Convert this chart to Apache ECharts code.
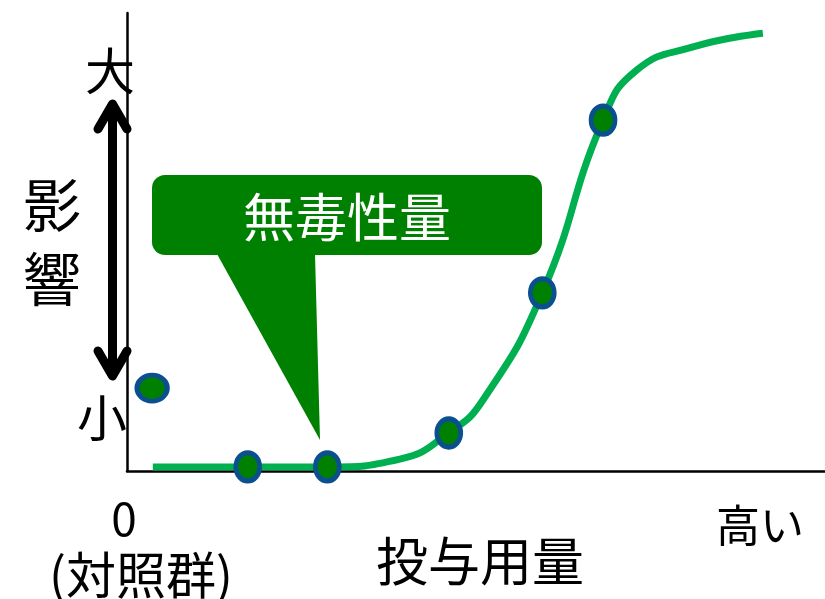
<!DOCTYPE html>
<html>
<head>
<meta charset="utf-8">
<script src="https://cdn.jsdelivr.net/npm/echarts@6/dist/echarts.min.js"></script>
<style>
  html, body { margin: 0; padding: 0; background: #fff; }
  #chart { width: 825px; height: 599px; }
</style>
</head>
<body>
<div id="chart"></div>
<script>
// dose (0-100 = low..high) / effect (0-100 = small..large)
const curveDose   = [3.7, 28.7, 39.1, 46.1, 51.0, 59.5, 68.2, 73.0, 81.1, 91.1];
const curveEffect = [0.9, 0.9, 2.6, 8.3, 15.5, 38.9, 76.6, 87.5, 92.6, 95.6];

const controlDose = [3.6];
const controlEffect = [18.1];
const groupDose   = [17.3, 28.7, 46.1, 59.5, 68.2];
const groupEffect = [0.9, 0.9, 8.3, 38.9, 76.6];

const yEndLabels = ["大", "小"];
const yTitleChars = ["影", "響"];
const xLowLabel = ["0", "(対照群)"];
const xHighLabel = "高い";
const xTitle = "投与用量";
const noaelText = "無毒性量";

const FONT = '"Noto Sans CJK JP", "Noto Sans", sans-serif';
const GREEN = "#008000";
const BLUE = "#0a4f8e";

function zip(a, b) {
  return a.map((v, i) => [v, b[i]]);
}

function txt(text, x, y, size, color) {
  return {
    type: "text",
    x: x,
    y: y,
    z: 10,
    style: {
      text: text,
      fill: color || "#000",
      font: size + "px " + FONT,
      align: "center",
      verticalAlign: "middle",
    },
  };
}

const myChart = echarts.init(document.getElementById("chart"));

myChart.setOption({
  animation: false,
  grid: {
    left: 127,
    right: 0,
    top: 13,
    bottom: 128,
  },
  xAxis: {
    type: "value",
    min: 0,
    max: 100,
    axisLine: { show: true, lineStyle: { color: "#000", width: 2.5 } },
    axisTick: { show: false },
    axisLabel: { show: false },
    splitLine: { show: false },
  },
  yAxis: {
    type: "value",
    min: 0,
    max: 100,
    axisLine: { show: true, lineStyle: { color: "#000", width: 2.5 } },
    axisTick: { show: false },
    axisLabel: { show: false },
    splitLine: { show: false },
  },
  series: [
    {
      type: "line",
      data: zip(curveDose, curveEffect),
      smooth: 0.5,
      showSymbol: false,
      lineStyle: { color: "#00b050", width: 7 },
      z: 2,
    },
    {
      type: "scatter",
      data: zip(controlDose, controlEffect),
      symbol: "circle",
      symbolSize: [30, 26],
      itemStyle: { color: GREEN, borderColor: BLUE, borderWidth: 5, opacity: 1 },
      z: 3,
    },
    {
      type: "scatter",
      data: zip(groupDose, groupEffect),
      symbol: "circle",
      symbolSize: [24, 28],
      itemStyle: { color: GREEN, borderColor: BLUE, borderWidth: 5, opacity: 1 },
      z: 3,
    },
  ],
  graphic: [
    // callout
    {
      type: "rect",
      z: 5,
      shape: { x: 152, y: 175, width: 390, height: 80, r: 13 },
      style: { fill: GREEN },
    },
    {
      type: "polygon",
      z: 5,
      shape: { points: [[217, 254], [315, 254], [320, 440]] },
      style: { fill: GREEN },
    },
    txt(noaelText, 347, 217, 52, "#fff"),
    // double arrow
    {
      type: "line",
      z: 5,
      shape: { x1: 112.5, y1: 106, x2: 112.5, y2: 376 },
      style: { stroke: "#000", lineWidth: 9 },
    },
    {
      type: "polyline",
      z: 5,
      shape: { points: [[98, 129], [112.5, 104], [127, 129]] },
      style: { stroke: "#000", lineWidth: 9, lineCap: "round", lineJoin: "round", fill: null },
    },
    {
      type: "polyline",
      z: 5,
      shape: { points: [[98, 351], [112.5, 376], [127, 351]] },
      style: { stroke: "#000", lineWidth: 9, lineCap: "round", lineJoin: "round", fill: null },
    },
    txt(yEndLabels[0], 110, 71, 50),
    txt(yEndLabels[1], 102, 418, 50),
    txt(yTitleChars[0], 52, 205, 58),
    txt(yTitleChars[1], 52, 279, 58),
    txt(xLowLabel[0], 124, 519, 46),
    txt(xLowLabel[1], 141, 575, 50),
    txt(xHighLabel, 760, 525, 44),
    txt(xTitle, 480, 561, 52),
  ],
});
</script>
</body>
</html>
